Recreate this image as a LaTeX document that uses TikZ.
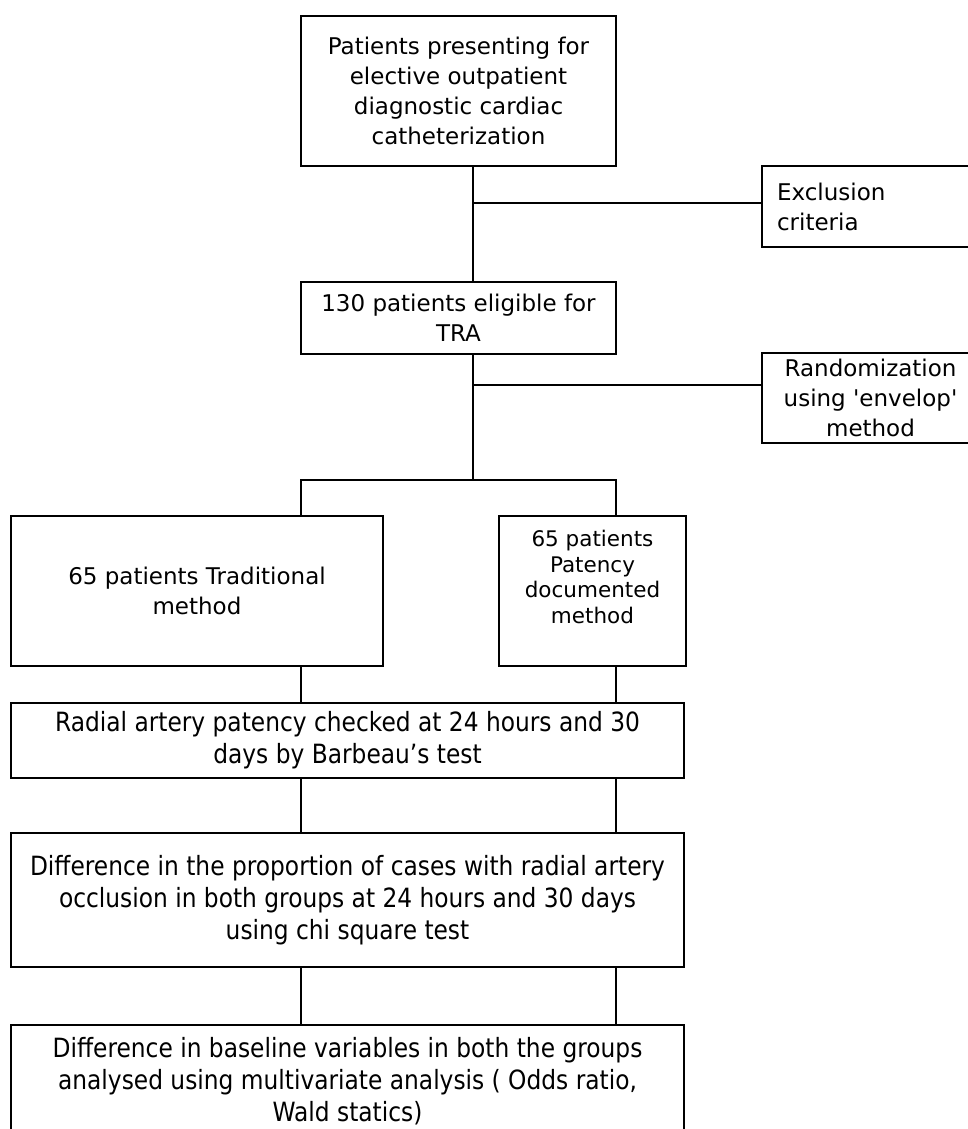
\documentclass[tikz,border=0pt]{standalone}
\usepackage{fontspec}
\setmainfont{DejaVu Sans}
\newfontfamily\narrowfont[FakeStretch=0.88]{DejaVu Sans}

\tikzset{
  box/.style={draw, line width=1.8pt, inner sep=0pt, align=center,
    font=\fontsize{23}{30}\selectfont},
  narrowbox/.style={box, font=\narrowfont\fontsize{26.5}{32}\selectfont},
  smalltext/.style={align=center, inner sep=0pt,
    font=\fontsize{21.5}{25.5}\selectfont},
  link/.style={line width=1.8pt}
}

\begin{document}
\begin{tikzpicture}[x=1pt,y=-1pt]
    \useasboundingbox (0,0) rectangle (968,1129);
    \clip (0,0) rectangle (968,1129);
    \coordinate (SpineX)   at (473,0);
    \coordinate (ExclJoin) at (473,203);
    \coordinate (RandJoin) at (473,385);
    \coordinate (SplitL)   at (301,480);
    \coordinate (SplitR)   at (616,480);
    % boxes
    \node [box, minimum width=315, minimum height=150] (start) at (458.5,91)
      {Patients presenting for\\elective outpatient\\diagnostic cardiac\\catheterization};
    \node [box, align=left, text width=200, inner xsep=15, minimum height=81] (excl) at (877,206.5)
      {Exclusion\\criteria};
    \node [box, minimum width=315, minimum height=72] (tra) at (458.5,318)
      {130 patients eligible for\\TRA};
    \node [box, minimum width=217, minimum height=90] (rand) at (870.5,398)
      {Randomization\\using \textquotesingle envelop\textquotesingle\\method};
    \node [box, minimum width=372, minimum height=150] (trad) at (197,591)
      {65 patients Traditional\\method};
    \node [box, minimum width=187, minimum height=150,
      label={[smalltext, yshift=14pt]center:{65 patients\\Patency\\documented\\method}}] (pat) at (592.5,591) {};
    \node [narrowbox, minimum width=673, minimum height=75] (radial) at (347.5,740.5)
      {Radial artery patency checked at 24 hours and 30\\days by Barbeau’s test};
    \node [narrowbox, minimum width=673, minimum height=134] (diff) at (347.5,900)
      {Difference in the proportion of cases with radial artery\\occlusion in both groups at 24 hours and 30 days\\using chi square test};
    \node [narrowbox, minimum width=673, minimum height=112] (base) at (347.5,1081)
      {Difference in baseline variables in both the groups\\analysed using multivariate analysis ( Odds ratio,\\Wald statics)};
    % connectors
    \draw [link] (start.south -| SpineX) -- (tra.north -| SpineX);% spine to TRA
    \draw [link] (ExclJoin) -- (ExclJoin -| excl.west);% exclusion branch
    \draw [link] (tra.south -| SpineX) -- (SpineX |- SplitL);% spine to split
    \draw [link] (RandJoin) -- (RandJoin -| rand.west);% randomization branch
    \draw [link] (trad.north -| SplitL) -- (SplitL) -- (SplitR) -- (pat.north -| SplitR);
    \foreach \a/\b/\c in {trad/pat/radial, radial/radial/diff, diff/diff/base} {
      \draw [link] (\a.south -| SplitL) -- (\c.north -| SplitL);
      \draw [link] (\b.south -| SplitR) -- (\c.north -| SplitR);
    }
\end{tikzpicture}
\end{document}
